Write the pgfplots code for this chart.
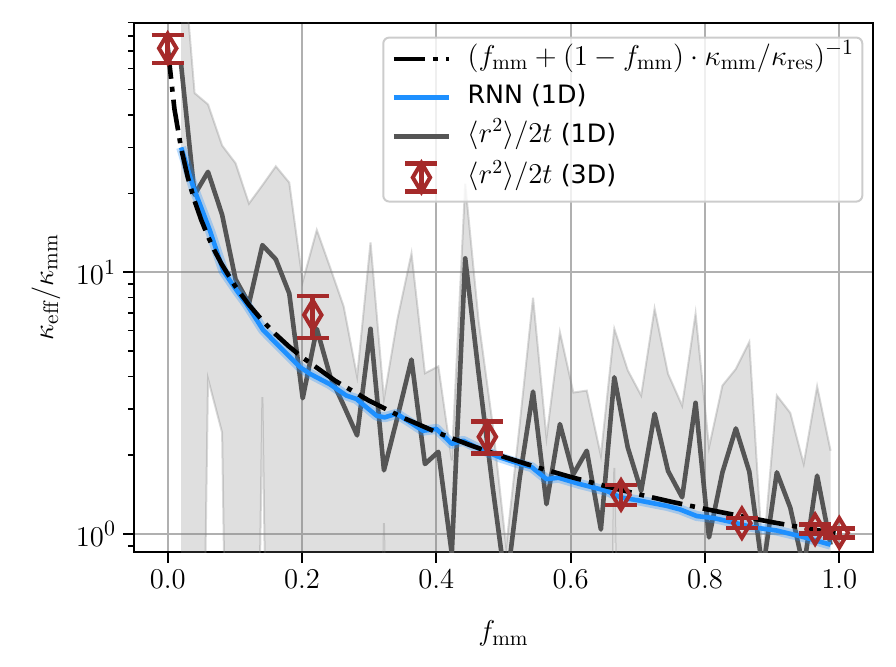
\documentclass[border=0pt]{standalone}
\usepackage{fontspec}
\setsansfont{DejaVu Sans}
\usepackage{pgfplots}
\usepackage{pgfplotstable}
\pgfplotsset{compat=1.18}
\definecolor{myred}{HTML}{A52A2A}
\definecolor{myblue}{HTML}{1E90FF}
\definecolor{mygray}{HTML}{555555}
\definecolor{gridgray}{HTML}{B0B0B0}
\newcommand{\lm}[1]{{\fontsize{14.3}{16}\selectfont$#1$}}
\newcommand{\lmbig}[1]{{\fontsize{15.1}{16}\selectfont$#1$}}

\pgfplotstableread{
x m u l
0.020 62 200 0.001
0.040 19.8 48.4 0.001
0.060 24.2 43.8 3.92
0.081 16.6 30.5 2.44
0.101 9.4 26.1 0.001
0.121 7.6 18.3 0.001
0.141 12.7 21.5 3.33
0.161 11.2 25.4 0.001
0.181 8.3 22.0 0.001
0.201 3.3 9.2 0.001
0.222 6.08 14.5 0.001
0.242 4.0 10.4 0.001
0.262 3.1 7.4 0.001
0.282 2.38 3.99 0.001
0.302 6.08 13.0 0.001
0.322 1.75 3.28 1.10
0.342 2.79 6.6 0.001
0.363 4.64 11.8 0.001
0.383 1.85 4.11 0.001
0.403 2.06 4.37 0.001
0.423 0.84 1.91 0.001
0.443 11.3 21.8 0.001
0.463 4.1 6.5 0.001
0.484 1.5 2.6 0.001
0.504 0.62 0.89 0.001
0.524 1.63 2.6 0.001
0.544 3.5 8.0 0.001
0.564 1.30 2.33 0.001
0.584 2.63 5.9 0.001
0.604 1.69 3.47 0.001
0.624 2.08 3.53 0.001
0.645 1.04 1.99 0.001
0.665 3.97 6.08 1.79
0.685 2.14 4.22 0.001
0.705 1.46 3.38 0.001
0.725 2.88 7.26 0.001
0.745 1.74 4.09 0.001
0.766 1.38 3.09 0.001
0.786 3.17 6.95 0.001
0.806 0.97 2.14 0.001
0.826 1.72 3.69 0.001
0.846 2.53 4.27 0.001
0.866 1.73 5.41 0.001
0.886 0.72 0.8 0.001
0.907 1.72 3.38 0.001
0.927 1.26 2.90 0.001
0.947 0.74 1.85 0.001
0.967 1.67 3.66 0.001
0.987 0.91 2.08 0.001
}\simdata

% closed outline of the band: upper bound forward, lower bound backward
\pgfplotstableread{
x y
0.020 200
0.040 48.4
0.060 43.8
0.081 30.5
0.101 26.1
0.121 18.3
0.141 21.5
0.161 25.4
0.181 22.0
0.201 9.2
0.222 14.5
0.242 10.4
0.262 7.4
0.282 3.99
0.302 13.0
0.322 3.28
0.342 6.6
0.363 11.8
0.383 4.11
0.403 4.37
0.423 1.91
0.443 21.8
0.463 6.5
0.484 2.6
0.504 0.89
0.524 2.6
0.544 8.0
0.564 2.33
0.584 5.9
0.604 3.47
0.624 3.53
0.645 1.99
0.665 6.08
0.685 4.22
0.705 3.38
0.725 7.26
0.745 4.09
0.766 3.09
0.786 6.95
0.806 2.14
0.826 3.69
0.846 4.27
0.866 5.41
0.886 0.8
0.907 3.38
0.927 2.90
0.947 1.85
0.967 3.66
0.987 2.08
0.987 0.001
0.967 0.001
0.947 0.001
0.927 0.001
0.907 0.001
0.886 0.001
0.866 0.001
0.846 0.001
0.826 0.001
0.806 0.001
0.786 0.001
0.766 0.001
0.745 0.001
0.725 0.001
0.705 0.001
0.685 0.001
0.665 1.79
0.645 0.001
0.624 0.001
0.604 0.001
0.584 0.001
0.564 0.001
0.544 0.001
0.524 0.001
0.504 0.001
0.484 0.001
0.463 0.001
0.443 0.001
0.423 0.001
0.403 0.001
0.383 0.001
0.363 0.001
0.342 0.001
0.322 1.10
0.302 0.001
0.282 0.001
0.262 0.001
0.242 0.001
0.222 0.001
0.201 0.001
0.181 0.001
0.161 0.001
0.141 3.33
0.121 0.001
0.101 0.001
0.081 2.44
0.060 3.92
0.040 0.001
0.020 0.001
}\band

\pgfplotstableread{
x y
0.020 30.0
0.038 21.2
0.063 14.4
0.083 10.1
0.103 8.5
0.117 7.59
0.142 6.02
0.167 5.18
0.197 4.34
0.212 4.09
0.241 3.74
0.266 3.38
0.281 3.28
0.311 2.83
0.323 2.79
0.341 2.88
0.361 2.67
0.380 2.48
0.400 2.52
0.423 2.21
0.440 2.27
0.460 2.14
0.495 1.96
0.525 1.85
0.542 1.80
0.564 1.62
0.582 1.64
0.614 1.55
0.654 1.46
0.674 1.38
0.703 1.34
0.743 1.28
0.763 1.24
0.788 1.17
0.813 1.15
0.833 1.12
0.872 1.06
0.907 1.03
0.942 0.98
0.987 0.91
}\rnndata

\pgfplotstableread{
x y
0.00 72
0.01 42.1
0.02 29.75
0.03 23.0
0.04 18.75
0.05 15.83
0.06 13.69
0.07 12.06
0.08 10.78
0.10 8.89
0.12 7.56
0.14 6.58
0.16 5.82
0.18 5.22
0.20 4.737
0.25 3.840
0.30 3.229
0.35 2.785
0.40 2.449
0.45 2.185
0.50 1.973
0.55 1.798
0.60 1.651
0.65 1.527
0.70 1.420
0.75 1.327
0.80 1.246
0.85 1.174
0.90 1.109
0.95 1.052
1.00 1.000
}\theory

\pgfplotstableread{
x y ep em
0.000 71.8 8.9 8.8
0.216 6.87 1.24 1.27
0.476 2.35 0.34 0.32
0.675 1.41 0.13 0.12
0.855 1.099 0.05 0.047
0.964 1.042 0.042 0.04
1.000 1.01 0.04 0.04
}\threed

\begin{document}
\begin{tikzpicture}
\useasboundingbox (-67bp,-57.5bp) rectangle (381bp,276bp);
\begin{axis}[
  at={(0bp,0bp)}, anchor=south west,
  scale only axis, width=369.5bp, height=264.7bp,
  xmin=-0.0502, xmax=1.0502,
  ymode=log, ymin=0.853, ymax=90,
  xtick={0,0.2,0.4,0.6,0.8,1},
  xticklabels={$0.0$,$0.2$,$0.4$,$0.6$,$0.8$,$1.0$},
  ytick={1,10},
  minor ytick={0.9,2,3,4,5,6,7,8,9,20,30,40,50,60,70,80,90},
  tick pos=left, tick align=outside,
  major tick length=5.5bp, minor tick length=3.1bp,
  tick style={black, line width=1bp},
  minor tick style={line width=0.8bp},
  axis line style={line width=1bp},
  grid=major, major grid style={draw=gridgray, line width=1.1bp},
  ticklabel style={font=\fontsize{15.2}{18}\selectfont},
  label style={font=\fontsize{15.2}{18}\selectfont},
  xlabel={$f_\mathrm{mm}$},
  ylabel={$\kappa_\mathrm{eff}/\kappa_\mathrm{mm}$},
  xlabel style={at={(axis description cs:0.5,-0.168)}, anchor=base},
  ylabel style={at={(axis description cs:-0.1096,0.5)}, anchor=base},
  legend cell align=left,
  legend image code/.code={\draw[#1] (0bp,0bp) -- (27.5bp,0bp);},
  legend style={
    at={(axis description cs:0.9869,0.9736)}, anchor=north east,
    draw=black!20, line width=1bp, rounded corners=3bp,
    fill=white, fill opacity=0.8, text opacity=1,
    font=\fontsize{12.7}{15}\selectfont,
    inner xsep=4.2bp, inner ysep=3.75bp,
    row sep=5.3bp,
    nodes={inner sep=0pt, text height=10bp, text depth=4bp},
    /tikz/every odd column/.append style={column sep=8.2bp},
  },
]
% legend entries
\addlegendimage{black, line width=2.3bp, sharp corners, dash pattern=on 15.5bp off 4bp on 2.5bp off 4bp}
\addlegendentry{\lmbig{(f_\mathrm{mm}+(1-f_\mathrm{mm})\cdot\kappa_\mathrm{mm}/\kappa_\mathrm{res})^{-1}}}
\addlegendimage{myblue, line width=2.3bp, sharp corners}
\addlegendentry{\textsf{RNN (1D)}}
\addlegendimage{mygray, line width=2.3bp, sharp corners}
\addlegendentry{\lm{\langle r^2\rangle/2t} \textsf{(1D)}}
\addlegendimage{legend image code/.code={
  \draw[myred, line width=2.3bp, sharp corners] (13.75bp,-7bp) -- (13.75bp,7bp);
  \draw[myred, line width=2.3bp, sharp corners] (5.75bp,-7bp) -- (21.75bp,-7bp);
  \draw[myred, line width=2.3bp, sharp corners] (5.75bp,7bp) -- (21.75bp,7bp);
  \draw[myred, line width=2bp, sharp corners] (13.75bp,-7.3bp) -- (18.1bp,0bp) -- (13.75bp,7.3bp) -- (9.4bp,0bp) -- cycle;
}}
\addlegendentry{\lm{\langle r^2\rangle/2t} \textsf{(3D)}}

% band of the 1D simulations
\addplot[fill=gray, fill opacity=0.25, draw=none, forget plot] table[x=x,y=y] {\band} -- cycle;
\addplot[draw=gray, draw opacity=0.3, line width=1bp, forget plot] table[x=x,y=u] {\simdata};
\addplot[draw=gray, draw opacity=0.3, line width=1bp, forget plot] table[x=x,y=l] {\simdata};
% 1D mean
\addplot[mygray, line width=2.3bp, line join=round, forget plot] table[x=x,y=m] {\simdata};
% RNN with band
\addplot[myblue, line width=5bp, opacity=0.3, line join=round, forget plot] table[x=x,y=y] {\rnndata};
\addplot[myblue, line width=2.3bp, line join=round, forget plot] table[x=x,y=y] {\rnndata};
% theory
\addplot[black, line width=2.3bp, dash pattern=on 15.5bp off 4bp on 2.5bp off 4bp, forget plot] table[x=x,y=y] {\theory};
% 3D
\addplot[forget plot, only marks, myred, mark=diamond, mark size=7.3bp,
  mark options={xscale=0.8, line width=2bp, sharp corners},
  error bars/.cd, y dir=both, y explicit,
  error bar style={line width=2.3bp, myred},
  error mark=|,
  error mark options={line width=2.3bp, mark size=8bp, myred}]
  table[x=x, y=y, y error plus=ep, y error minus=em] {\threed};
\end{axis}
\end{tikzpicture}
\end{document}
